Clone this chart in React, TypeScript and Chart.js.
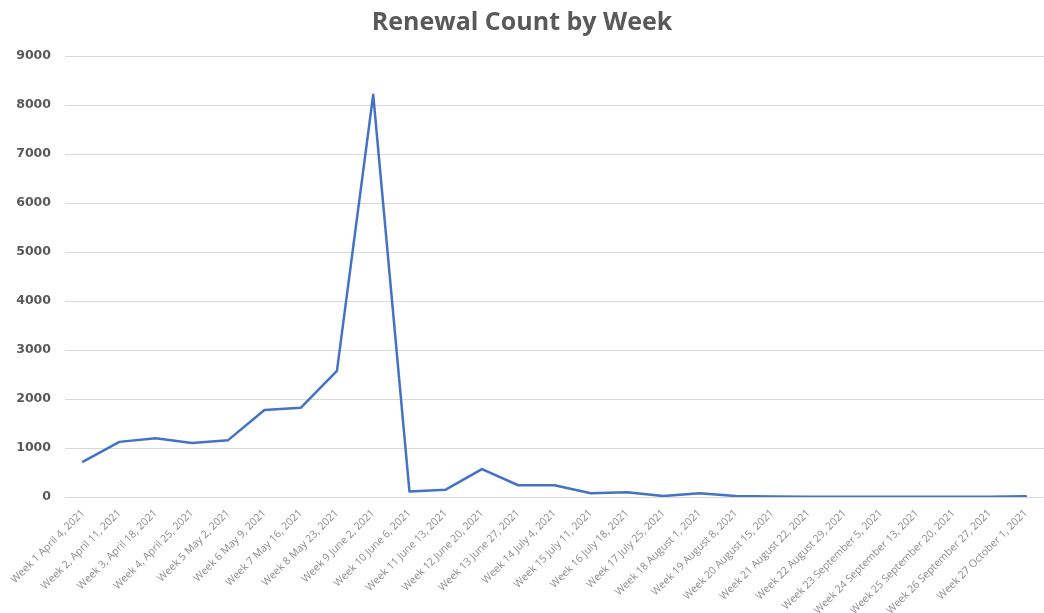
import React, { useEffect, useRef } from "react";
import { Chart, registerables } from "chart.js";

Chart.register(...registerables);

const weekLabels: string[] = [
  "Week 1 April 4, 2021",
  "Week 2, April 11, 2021",
  "Week 3, April 18, 2021",
  "Week 4, April 25, 2021",
  "Week 5 May 2, 2021",
  "Week 6 May 9, 2021",
  "Week 7 May 16, 2021",
  "Week 8 May 23, 2021",
  "Week 9 June 2, 2021",
  "Week 10 June 6, 2021",
  "Week 11 June 13, 2021",
  "Week 12 June 20, 2021",
  "Week 13 June 27, 2021",
  "Week 14 July 4, 2021",
  "Week 15 July 11, 2021",
  "Week 16 July 18, 2021",
  "Week 17 July 25, 2021",
  "Week 18 August 1, 2021",
  "Week 19 August 8, 2021",
  "Week 20 August 15, 2021",
  "Week 21 August 22, 2021",
  "Week 22 August 29, 2021",
  "Week 23 September 5, 2021",
  "Week 24 September 13, 2021",
  "Week 25 September 20, 2021",
  "Week 26 September 27, 2021",
  "Week 27 October 1, 2021",
];

const renewalCounts: number[] = [
  720, 1125, 1200, 1100, 1160, 1775, 1820, 2575, 8210, 110, 150, 570, 240,
  240, 75, 95, 20, 75, 20, 12, 5, 5, 5, 5, 5, 5, 15,
];

const chartTitle = "Renewal Count by Week";

export default function App() {
  const canvasRef = useRef<HTMLCanvasElement | null>(null);

  useEffect(() => {
    if (!canvasRef.current) return;
    const chart = new Chart(canvasRef.current, {
      type: "line",
      data: {
        labels: weekLabels,
        datasets: [
          {
            label: "Renewal Count",
            data: renewalCounts,
            borderColor: "#4472C4",
            backgroundColor: "#4472C4",
            borderWidth: 2.5,
            borderJoinStyle: "round",
            borderCapStyle: "round",
            pointRadius: 0,
            tension: 0,
            fill: false,
          },
        ],
      },
      options: {
        animation: false,
        responsive: false,
        maintainAspectRatio: false,
        layout: { padding: { left: 0, right: 0, top: 8, bottom: 0 } },
        plugins: {
          legend: { display: false },
          tooltip: { enabled: false },
          title: {
            display: true,
            text: chartTitle,
            color: "#595959",
            font: { family: "'Open Sans', sans-serif", size: 25, weight: "bold" },
            padding: { top: 0, bottom: 18 },
          },
        },
        scales: {
          x: {
            offset: true,
            grid: { display: false },
            border: { display: false },
            ticks: {
              minRotation: 45,
              maxRotation: 45,
              autoSkip: false,
              color: "#8c8c8c",
              font: { family: "'Open Sans', sans-serif", size: 10.5 },
              padding: 2,
            },
            afterFit: (scale: any) => {
              scale.height = 116;
            },
          },
          y: {
            min: 0,
            max: 9000,
            ticks: {
              stepSize: 1000,
              color: "#595959",
              font: { family: "'DejaVu Sans', sans-serif", size: 12.5, weight: "bold" },
              padding: 14,
              callback: (v: any) => String(v),
            },
            grid: { color: "#d9d9d9", lineWidth: 1, drawTicks: false },
            border: { display: false },
            afterFit: (scale: any) => {
              scale.width = 65;
            },
          },
        },
      },
    });
    return () => chart.destroy();
  }, []);

  return (
    <div style={{ position: "fixed", left: 0, top: 0, width: 1044, height: 613, background: "#fff" }}>
      <canvas ref={canvasRef} width={1044} height={613} />
    </div>
  );
}
